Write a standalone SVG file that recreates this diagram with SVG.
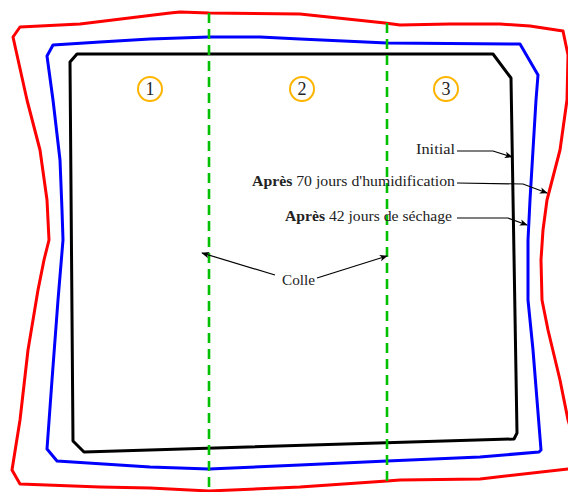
<svg xmlns="http://www.w3.org/2000/svg" width="568" height="492" viewBox="0 0 568 492">
<style>
.outline{fill:none;stroke-width:3;stroke-linejoin:round}
.cut{fill:none;stroke:#00C000;stroke-width:2.6;stroke-dasharray:10 6}
.lbl{font-family:"Liberation Serif","DejaVu Serif",serif;font-size:15px;fill:#222}
.num{font-family:"Liberation Serif","DejaVu Serif",serif;font-size:18px;fill:#222;text-anchor:middle}
.ring{fill:none;stroke:#FFB400;stroke-width:2}
.arr{fill:none;stroke:#000;stroke-width:1.2;marker-end:url(#ah)}
</style>
<defs>
<marker id="ah" viewBox="0 0 10 10" refX="9" refY="5" markerWidth="8" markerHeight="8" orient="auto" markerUnits="userSpaceOnUse">
<path d="M0,1 L10,5 L0,9 L2.5,5 Z" fill="#000"/>
</marker>
</defs>
<rect width="568" height="492" fill="#fff"/>
<g id="red-outline">
<path class="outline" stroke="#FF0000" d="M20,27 L80,24 L170,13 L180,12 L209,13 L300,14 L385,23 L400,25 L450,24 L500,24 L530,26 L563,31 L568,55 L567,100 L560,150 L547,200 L543,230 L541,260 L542,300 L548,330 L560,380 L568,420 L576,445 L576,468 L568,469 L480,479 L400,480 L387,481 L300,487 L209,491 L150,488 L100,487 L20,484 L12,470 L20,420 L28,350 L38,290 L44,260 L49,240 L47,200 L40,150 L27,100 L13,37 Z"/>
</g>
<g id="blue-outline">
<path class="outline" stroke="#0000FF" d="M53,45 L100,42 L150,39 L209,37 L260,37 L300,39 L387,43 L520,44 L538,75 L536,100 L530,200 L528,240 L528,300 L533,350 L541,450 L539,452 L480,457 L387,461 L300,465 L209,469 L150,467 L57,461 L47,449 L52,380 L58,300 L63,240 L62,210 L60,160 L53,100 L47,56 Z"/>
</g>
<g id="black-outline">
<path class="outline" stroke="#000" d="M77,54 L493,54 L511,78 L517,433 L514,439 L84,452 L73,441 L70,62 Z"/>
</g>
<g id="cuts">
<line class="cut" x1="209" y1="13" x2="209" y2="492"/>
<line class="cut" x1="387" y1="23" x2="387" y2="482"/>
</g>
<g id="zone1"><circle class="ring" cx="150" cy="89" r="12"/><text class="num" x="150" y="95">1</text></g>
<g id="zone2"><circle class="ring" cx="302" cy="89" r="12"/><text class="num" x="302" y="95">2</text></g>
<g id="zone3"><circle class="ring" cx="446" cy="89" r="12"/><text class="num" x="446" y="95">3</text></g>
<g id="label-initial"><text class="lbl" x="416" y="154" textLength="39" lengthAdjust="spacingAndGlyphs">Initial</text></g>
<g id="label-humid"><text class="lbl" x="252" y="186" textLength="203" lengthAdjust="spacingAndGlyphs"><tspan font-weight="bold">Après</tspan> 70 jours d'humidification</text></g>
<g id="label-sechage"><text class="lbl" x="285" y="221" textLength="167" lengthAdjust="spacingAndGlyphs"><tspan font-weight="bold">Après</tspan> 42 jours de séchage</text></g>
<g id="label-colle"><text class="lbl" x="282" y="285" textLength="33" lengthAdjust="spacingAndGlyphs">Colle</text></g>
<g id="connectors">
<path class="arr" d="M457,151 L493,151 L512,157"/>
<path class="arr" d="M457,183 L523,184 L547,193"/>
<path class="arr" d="M457,218 L508,218 L527,225"/>
<path class="arr" d="M275,275 L202,253"/>
<path class="arr" d="M317,278 L387,256"/>
</g>
</svg>
